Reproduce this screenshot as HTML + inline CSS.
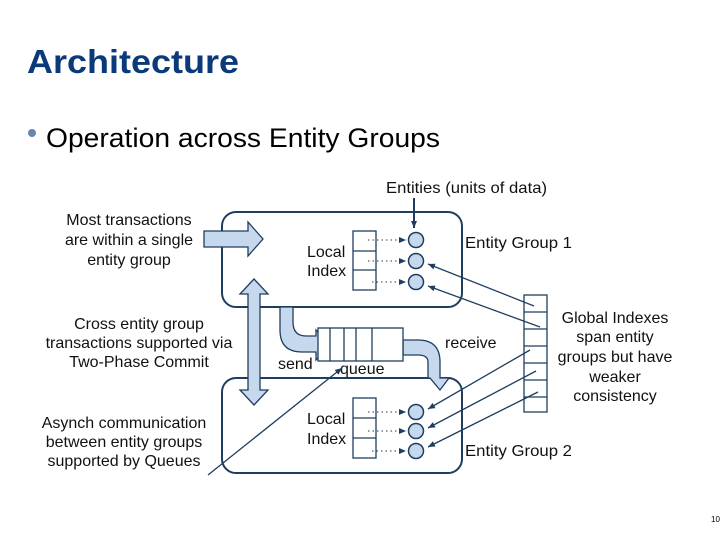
<!DOCTYPE html>
<html><head><meta charset="utf-8"><style>
html,body{margin:0;padding:0;background:#fff;}
body{width:728px;height:546px;overflow:hidden;position:relative;font-family:"Liberation Sans",sans-serif;}
</style></head><body>
<svg width="728" height="546" viewBox="0 0 728 546" xmlns="http://www.w3.org/2000/svg" font-family="Liberation Sans, sans-serif">
<defs>
<marker id="ah" markerWidth="8" markerHeight="8" refX="7" refY="4" orient="auto" markerUnits="userSpaceOnUse"><path d="M0,1 L7,4 L0,7 z" fill="#1f3e5e"/></marker>
</defs>
<text x="27" y="73" font-size="33" font-weight="bold" fill="#0a3a7a" textLength="212" lengthAdjust="spacingAndGlyphs">Architecture</text>
<circle cx="32" cy="133" r="4" fill="#6a85b4"/>
<text x="46" y="147" font-size="27" fill="#000" textLength="394" lengthAdjust="spacingAndGlyphs">Operation across Entity Groups</text>

<rect x="222" y="212" width="240" height="95" rx="14" fill="none" stroke="#1f3e5e" stroke-width="2"/>
<rect x="222" y="378" width="240" height="95" rx="14" fill="none" stroke="#1f3e5e" stroke-width="2"/>

<g font-size="16" fill="#111">
<text x="386" y="193" textLength="161" lengthAdjust="spacingAndGlyphs">Entities (units of data)</text>
<text x="465" y="248" textLength="107" lengthAdjust="spacingAndGlyphs">Entity Group 1</text>
<text x="465" y="456" textLength="107" lengthAdjust="spacingAndGlyphs">Entity Group 2</text>
<text x="307" y="257">Local</text><text x="307" y="276">Index</text>
<text x="307" y="424">Local</text><text x="307" y="444">Index</text>
<text x="445" y="348">receive</text>
<text x="278" y="369">send</text>
<text x="340" y="374">queue</text>
<g text-anchor="middle">
<text x="129" y="225">Most transactions</text><text x="129" y="245">are within a single</text><text x="129" y="265">entity group</text>
<text x="139" y="329">Cross entity group</text><text x="139" y="348">transactions supported via</text><text x="139" y="367">Two-Phase Commit</text>
<text x="124" y="428">Asynch communication</text><text x="124" y="447">between entity groups</text><text x="124" y="466">supported by Queues</text>
<text x="615" y="323">Global Indexes</text><text x="615" y="342">span entity</text><text x="615" y="362">groups but have</text><text x="615" y="382">weaker</text><text x="615" y="401">consistency</text>
</g>
</g>
<text x="711" y="522" font-size="8" fill="#000">10</text>

<line x1="414" y1="198" x2="414" y2="228" stroke="#1f3e5e" stroke-width="2" marker-end="url(#ah)"/>

<g stroke="#1f3e5e" stroke-width="1.3" fill="#fff">
<rect x="353" y="231" width="23" height="59"/><line x1="353" y1="251" x2="376" y2="251"/><line x1="353" y1="270" x2="376" y2="270"/>
<rect x="353" y="398" width="23" height="60"/><line x1="353" y1="418" x2="376" y2="418"/><line x1="353" y1="438" x2="376" y2="438"/>
<rect x="524" y="295" width="23" height="117"/>
<line x1="524" y1="312" x2="547" y2="312"/><line x1="524" y1="329" x2="547" y2="329"/><line x1="524" y1="346" x2="547" y2="346"/><line x1="524" y1="363" x2="547" y2="363"/><line x1="524" y1="380" x2="547" y2="380"/><line x1="524" y1="397" x2="547" y2="397"/>
</g>
<g stroke="#1f3e5e" stroke-width="1" stroke-dasharray="1.5,3" marker-end="url(#ah)">
<line x1="368" y1="240" x2="406" y2="240"/><line x1="368" y1="261" x2="406" y2="261"/><line x1="372" y1="282" x2="406" y2="282"/>
<line x1="368" y1="412" x2="406" y2="412"/><line x1="368" y1="431" x2="406" y2="431"/><line x1="372" y1="451" x2="406" y2="451"/>
</g>
<g fill="#c6d8ee" stroke="#1f3e5e" stroke-width="1.5">
<circle cx="416" cy="240" r="7.5"/><circle cx="416" cy="261" r="7.5"/><circle cx="416" cy="282" r="7.5"/>
<circle cx="416" cy="412" r="7.5"/><circle cx="416" cy="431" r="7.5"/><circle cx="416" cy="451" r="7.5"/>
</g>

<g stroke="#1f3e5e" stroke-width="1.3" marker-end="url(#ah)">
<line x1="534" y1="306" x2="428" y2="264"/>
<line x1="540" y1="327" x2="428" y2="286"/>
<line x1="530" y1="350" x2="428" y2="409"/>
<line x1="536" y1="371" x2="428" y2="428"/>
<line x1="538" y1="392" x2="428" y2="447"/>
<line x1="208" y1="475" x2="342" y2="368"/>
</g>

<g fill="#c6d8ee" stroke="#1f3e5e" stroke-width="1.3" stroke-linejoin="miter">
<path d="M204,231 L248,231 L248,222 L263,239 L248,256 L248,247 L204,247 Z"/>
<path d="M254,279 L268,294 L260,294 L260,390 L268,390 L254,405 L240,390 L248,390 L248,294 L240,294 Z"/>
<path d="M280,307 L293,307 L293,322 Q293,336 306,336 L316,336 L316,330 L330,345 L316,360 L316,352 L302,352 Q280,352 280,330 Z"/>
<path d="M403,340 L418,340 Q440,340 440,362 L440,378 L449,378 L440,390 L430,378 L428,378 L428,362 Q428,355 418,355 L403,355 Z"/>
</g>
<g stroke="#1f3e5e" stroke-width="1.3" fill="#fff">
<rect x="318" y="328" width="85" height="33"/>
<line x1="330" y1="328" x2="330" y2="361"/><line x1="344" y1="328" x2="344" y2="361"/><line x1="356" y1="328" x2="356" y2="361"/><line x1="372" y1="328" x2="372" y2="361"/>
</g>
</svg>
</body></html>
